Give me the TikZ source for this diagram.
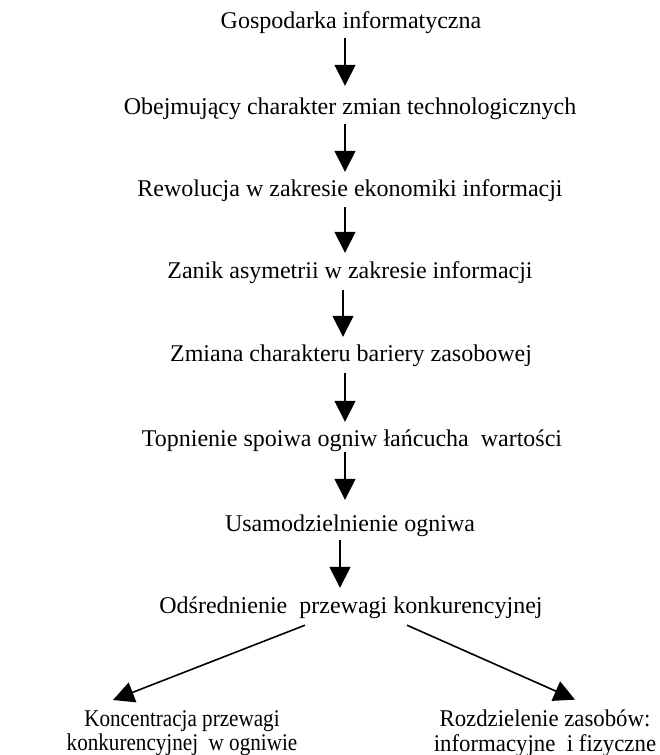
\documentclass[tikz,border=0pt]{standalone}
\usepackage{fontspec}
\setmainfont{Liberation Serif}
\newfontfamily\leftcond[FakeStretch=0.88]{Liberation Serif}
\newfontfamily\rightcond[FakeStretch=0.95]{Liberation Serif}
\usetikzlibrary{arrows.meta}
\begin{document}
\begin{tikzpicture}[x=1pt,y=-1pt,
  lbl/.style={font=\fontsize{24}{24.5}\selectfont, inner sep=0pt, text height=18pt, text depth=6pt, align=center},
  botlbl/.style={inner sep=0pt, align=center},
  arr/.style={line width=1.6pt, -{Triangle[length=21pt,width=21pt]}}]
\useasboundingbox (0,0) rectangle (659,755);
\node[lbl] (t1) at (351,22) {Gospodarka informatyczna};
\node[lbl] (t2) at (350,108) {Obejmujący charakter zmian technologicznych};
\node[lbl] (t3) at (350,190) {Rewolucja w zakresie ekonomiki informacji};
\node[lbl] (t4) at (350,272) {Zanik asymetrii w zakresie informacji};
\node[lbl] (t5) at (351,355) {Zmiana charakteru bariery zasobowej};
\node[lbl] (t6) at (352,440) {Topnienie spoiwa ogniw łańcucha~ wartości};
\node[lbl] (t7) at (350,525) {Usamodzielnienie ogniwa};
\node[lbl] (t8) at (351,607) {Odśrednienie~ przewagi konkurencyjnej};
\node[botlbl, font=\leftcond\fontsize{24}{24.5}\selectfont] (bl) at (182,733) {Koncentracja przewagi\\konkurencyjnej~ w ogniwie};
\node[botlbl, font=\rightcond\fontsize{24}{24.5}\selectfont] (br) at (545,733) {Rozdzielenie zasobów:\\informacyjne~ i fizyczne};
\draw[arr, shorten <=4pt, shorten >=10pt] ([xshift=-6pt]t1.south) -- ([xshift=-5pt]t2.north);
\draw[arr, shorten <=4pt, shorten >=6pt] ([xshift=-5pt]t2.south) -- ([xshift=-5pt]t3.north);
\draw[arr, shorten <=5pt, shorten >=7pt] ([xshift=-5pt]t3.south) -- ([xshift=-5pt]t4.north);
\draw[arr, shorten <=6pt, shorten >=6pt] ([xshift=-7pt]t4.south) -- ([xshift=-8pt]t5.north);
\draw[arr, shorten <=6pt, shorten >=6pt] ([xshift=-6pt]t5.south) -- ([xshift=-7pt]t6.north);
\draw[arr, shorten <=0pt, shorten >=13pt] ([xshift=-7pt]t6.south) -- ([xshift=-5pt]t7.north);
\draw[arr, shorten <=3pt, shorten >=7pt] ([xshift=-10pt]t7.south) -- ([xshift=-11pt]t8.north);
\draw[arr] ([xshift=-46pt,yshift=-6pt]t8.south) -- ([xshift=-69pt,yshift=10pt]bl.north);
\draw[arr] ([xshift=56pt,yshift=-6pt]t8.south) -- ([xshift=30pt,yshift=10pt]br.north);
\end{tikzpicture}
\end{document}
